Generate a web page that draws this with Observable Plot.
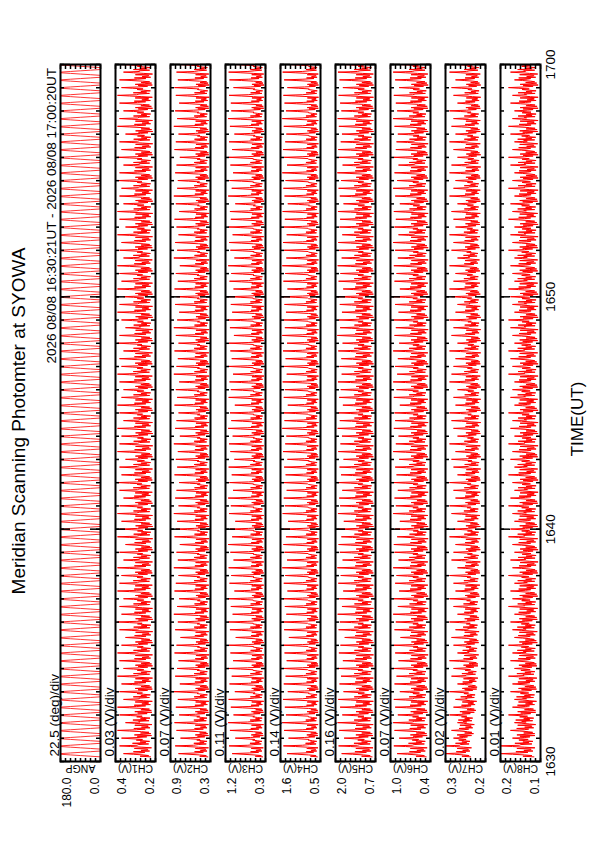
<!DOCTYPE html>
<html>
<head>
<meta charset="utf-8">
<script src="https://cdn.jsdelivr.net/npm/d3@7"></script>
<script src="https://cdn.jsdelivr.net/npm/@observablehq/plot@0.6"></script>
<style>
html, body { margin: 0; padding: 0; background: #fff; }
body { width: 595px; height: 842px; overflow: hidden; position: relative; font-family: "Liberation Sans", Arial, sans-serif; }
#land { position: absolute; left: 0; top: 0; width: 842px; height: 595px; transform-origin: 0 0; transform: translate(0px, 842px) rotate(-90deg); }
#title { position: absolute; left: 0; top: 8px; width: 842px; text-align: center; font-size: 19px; color: #000; white-space: nowrap; }
#subtitle { position: absolute; right: 68px; top: 44px; font-size: 13.5px; color: #000; white-space: nowrap; }
</style>
</head>
<body>
<div id="land">
  <div id="title">Meridian Scanning Photomter at SYOWA</div>
  <div id="subtitle">2026 08/08 16:30:21UT - 2026 08/08 17:00:20UT</div>
</div>
<script>
// ---------------- DATA ----------------
const channelNames = ["ANGP", "CH1(V)", "CH2(V)", "CH3(V)", "CH4(V)", "CH5(V)", "CH6(V)", "CH7(V)", "CH8(V)"];
const divLabels = ["22.5 (deg)/div", "0.03 (V)/div", "0.07 (V)/div", "0.11 (V)/div", "0.14 (V)/div", "0.16 (V)/div", "0.07 (V)/div", "0.02 (V)/div", "0.01 (V)/div"];
const axisTopLabels = ["180.0", "0.4", "0.9", "1.2", "1.6", "2.0", "1.0", "0.3", "0.2"];
const axisBottomLabels = ["0.0", "0.2", "0.3", "0.3", "0.5", "0.7", "0.4", "0.2", "0.1"];
const timeTickLabels = ["1630", "1640", "1650", "1700"];
const xLabel = "TIME(UT)";

const scanStart = "2026-08-08T16:30:12Z";
const scanSeconds = 20;   // one meridian scan
const nScans = 90;

// scan-angle samples within one scan (deg)
const angShape = [0, 45, 90, 135, 180, 180, 135, 90, 45, 0, 0, 0];
// within-scan background shapes (fraction of the noise band) and the zenith spike shape
const scanShapes = [
  [0.05, 0.6, 0.15, 0, 0, 0, 0, 0.35, 0.95, 0.1, 0.55, 0.2],
  [0.2, 0.9, 0.0, 0, 0, 0, 0, 0.7, 0.15, 1.0, 0.3, 0.6],
  [0.1, 0.45, 0.8, 0, 0, 0, 0, 0.25, 0.75, 0.0, 0.9, 0.4]
];
const spikeShape = [0, 0, 0, 0.3, 0.65, 1, 0.45, 0, 0, 0, 0, 0];

// per-minute background level of each channel (V)
const ch1Base = [0.22,0.218,0.216,0.215,0.215,0.214,0.215,0.216,0.215,0.214,0.215,0.216,0.215,0.214,0.215,0.215,0.216,0.215,0.214,0.215,0.215,0.216,0.215,0.214,0.215,0.215,0.214,0.215,0.216,0.215];
const ch2Base = [0.33,0.33,0.325,0.325,0.32,0.325,0.32,0.325,0.325,0.32,0.325,0.32,0.325,0.325,0.32,0.325,0.32,0.325,0.32,0.325,0.325,0.32,0.325,0.32,0.325,0.325,0.32,0.325,0.32,0.325];
const ch3Base = [0.35,0.345,0.34,0.34,0.335,0.34,0.335,0.34,0.34,0.335,0.34,0.335,0.34,0.34,0.335,0.34,0.335,0.34,0.335,0.34,0.34,0.335,0.34,0.335,0.34,0.34,0.335,0.34,0.335,0.34];
const ch4Base = [0.57,0.565,0.56,0.56,0.555,0.56,0.555,0.56,0.56,0.555,0.56,0.555,0.56,0.56,0.555,0.56,0.555,0.56,0.555,0.56,0.56,0.555,0.56,0.555,0.56,0.56,0.555,0.56,0.555,0.56];
const ch5Base = [0.78,0.775,0.77,0.77,0.765,0.77,0.765,0.77,0.77,0.765,0.77,0.765,0.77,0.77,0.765,0.77,0.765,0.77,0.765,0.77,0.77,0.765,0.77,0.765,0.77,0.77,0.765,0.77,0.765,0.77];
const ch6Base = [0.45,0.445,0.44,0.44,0.435,0.44,0.435,0.44,0.44,0.435,0.44,0.435,0.44,0.44,0.435,0.44,0.435,0.44,0.435,0.44,0.44,0.435,0.44,0.435,0.44,0.44,0.435,0.44,0.435,0.44];
const ch7Base = [0.235,0.228,0.222,0.219,0.217,0.216,0.215,0.214,0.213,0.213,0.214,0.213,0.212,0.213,0.212,0.212,0.213,0.212,0.212,0.213,0.214,0.215,0.214,0.213,0.213,0.212,0.213,0.213,0.212,0.213];
const ch8Base = [0.114,0.112,0.11,0.109,0.108,0.108,0.107,0.107,0.106,0.107,0.107,0.106,0.107,0.106,0.106,0.107,0.106,0.107,0.106,0.106,0.107,0.107,0.106,0.107,0.106,0.106,0.107,0.106,0.106,0.107];
// height of the background noise band (V)
const bandSpread = [0, 0.095, 0.22, 0.3, 0.34, 0.62, 0.28, 0.04, 0.05];

// per-scan peak (zenith spike) value of each channel (V)
const ch1Peak = [0.36,0.38,0.37,0.39,0.35,0.38,0.39,0.36,0.38,0.37,0.39,0.36,0.38,0.39,0.37,0.35,0.38,0.39,0.37,0.38,0.36,0.39,0.38,0.37,0.39,0.36,0.38,0.35,0.39,0.38,0.37,0.39,0.38,0.36,0.38,0.39,0.37,0.38,0.35,0.39,0.38,0.37,0.39,0.36,0.38,0.39,0.37,0.36,0.38,0.39,0.37,0.38,0.36,0.39,0.38,0.35,0.37,0.39,0.38,0.36,0.39,0.37,0.38,0.39,0.36,0.38,0.37,0.39,0.35,0.38,0.39,0.36,0.38,0.37,0.39,0.38,0.36,0.39,0.37,0.38,0.35,0.39,0.38,0.36,0.38,0.39,0.37,0.38,0.36,0.39];
const ch2Peak = [0.78,0.83,0.75,0.81,0.84,0.77,0.82,0.79,0.85,0.76,0.83,0.80,0.78,0.84,0.81,0.75,0.83,0.79,0.85,0.80,0.77,0.84,0.82,0.78,0.85,0.79,0.81,0.76,0.84,0.82,0.80,0.85,0.78,0.83,0.81,0.77,0.84,0.80,0.82,0.79,0.85,0.76,0.83,0.81,0.78,0.84,0.80,0.82,0.77,0.85,0.81,0.79,0.84,0.78,0.82,0.85,0.80,0.77,0.83,0.81,0.84,0.79,0.82,0.76,0.85,0.80,0.83,0.78,0.81,0.84,0.77,0.82,0.85,0.80,0.79,0.83,0.81,0.76,0.84,0.82,0.78,0.85,0.80,0.83,0.77,0.82,0.84,0.79,0.81,0.83];
const ch3Peak = [1.05,1.12,0.98,1.10,1.14,1.02,1.08,1.13,0.99,1.11,1.06,1.14,1.03,1.09,1.12,0.97,1.10,1.13,1.04,1.08,1.14,1.00,1.11,1.07,1.13,1.02,1.09,1.14,1.05,1.10,0.98,1.12,1.08,1.14,1.03,1.11,1.06,1.13,1.00,1.09,1.12,1.04,1.14,1.07,1.10,0.99,1.13,1.08,1.11,1.03,1.14,1.06,1.09,1.12,1.01,1.10,1.14,1.05,1.08,1.13,1.02,1.11,1.07,1.14,1.00,1.09,1.12,1.04,1.13,1.08,1.10,0.98,1.14,1.06,1.11,1.03,1.09,1.13,1.05,1.12,1.00,1.10,1.14,1.07,1.08,1.12,1.02,1.11,1.13,1.06];
const ch4Peak = [1.42,1.52,1.38,1.50,1.55,1.45,1.48,1.53,1.40,1.51,1.46,1.54,1.43,1.49,1.52,1.37,1.50,1.55,1.44,1.48,1.53,1.41,1.51,1.47,1.55,1.42,1.49,1.52,1.45,1.50,1.39,1.54,1.48,1.51,1.43,1.55,1.46,1.50,1.41,1.53,1.47,1.44,1.55,1.49,1.52,1.40,1.51,1.48,1.54,1.43,1.50,1.46,1.53,1.42,1.55,1.48,1.51,1.45,1.49,1.54,1.41,1.52,1.47,1.55,1.44,1.50,1.53,1.43,1.51,1.48,1.54,1.40,1.49,1.52,1.46,1.55,1.42,1.50,1.53,1.47,1.44,1.51,1.55,1.45,1.49,1.52,1.41,1.50,1.54,1.46];
const ch5Peak = [1.80,1.90,1.72,1.88,1.93,1.78,1.85,1.91,1.74,1.87,1.82,1.92,1.76,1.89,1.84,1.70,1.90,1.86,1.93,1.79,1.88,1.75,1.91,1.83,1.94,1.77,1.86,1.90,1.81,1.89,1.73,1.92,1.85,1.88,1.78,1.93,1.82,1.87,1.74,1.91,1.84,1.79,1.93,1.86,1.90,1.76,1.88,1.83,1.92,1.80,1.87,1.81,1.91,1.77,1.94,1.85,1.89,1.79,1.86,1.92,1.75,1.90,1.84,1.93,1.80,1.88,1.91,1.78,1.87,1.85,1.92,1.74,1.86,1.90,1.82,1.94,1.77,1.88,1.91,1.83,1.79,1.89,1.93,1.81,1.85,1.90,1.76,1.87,1.92,1.84];
const ch6Peak = [0.90,0.95,0.87,0.94,0.96,0.89,0.93,0.95,0.86,0.94,0.91,0.96,0.88,0.93,0.95,0.85,0.94,0.92,0.96,0.89,0.95,0.87,0.93,0.91,0.96,0.88,0.94,0.95,0.90,0.93,0.86,0.96,0.92,0.94,0.89,0.95,0.91,0.93,0.87,0.96,0.92,0.88,0.95,0.93,0.94,0.86,0.95,0.91,0.96,0.90,0.93,0.89,0.96,0.87,0.94,0.92,0.95,0.88,0.93,0.96,0.86,0.94,0.91,0.95,0.89,0.93,0.96,0.88,0.94,0.92,0.95,0.86,0.93,0.96,0.90,0.94,0.88,0.95,0.92,0.91,0.89,0.94,0.96,0.90,0.92,0.95,0.87,0.93,0.96,0.91];
const ch7Peak = [0.30,0.30,0.28,0.285,0.27,0.29,0.28,0.275,0.29,0.27,0.285,0.28,0.29,0.27,0.28,0.285,0.275,0.29,0.27,0.28,0.29,0.275,0.28,0.29,0.27,0.285,0.28,0.275,0.29,0.28,0.27,0.285,0.29,0.275,0.28,0.29,0.27,0.28,0.285,0.275,0.29,0.27,0.28,0.285,0.29,0.275,0.28,0.27,0.29,0.285,0.28,0.275,0.29,0.27,0.285,0.28,0.29,0.275,0.27,0.285,0.29,0.28,0.275,0.29,0.27,0.285,0.28,0.29,0.275,0.28,0.285,0.27,0.29,0.28,0.275,0.29,0.285,0.27,0.28,0.29,0.275,0.285,0.28,0.29,0.27,0.28,0.285,0.275,0.29,0.28];
const ch8Peak = [0.20,0.20,0.17,0.175,0.165,0.18,0.17,0.165,0.175,0.17,0.18,0.165,0.175,0.17,0.18,0.165,0.17,0.175,0.165,0.18,0.17,0.175,0.165,0.18,0.17,0.175,0.165,0.17,0.18,0.175,0.165,0.17,0.18,0.175,0.165,0.17,0.18,0.165,0.175,0.17,0.18,0.165,0.175,0.17,0.18,0.165,0.175,0.17,0.165,0.18,0.17,0.175,0.18,0.165,0.17,0.175,0.18,0.165,0.17,0.175,0.18,0.165,0.17,0.175,0.165,0.18,0.17,0.175,0.165,0.18,0.17,0.175,0.165,0.18,0.17,0.165,0.175,0.18,0.17,0.165,0.175,0.18,0.17,0.165,0.175,0.17,0.18,0.165,0.175,0.17];

// ---------------- BUILD SERIES ----------------
const baseArrays = [null, ch1Base, ch2Base, ch3Base, ch4Base, ch5Base, ch6Base, ch7Base, ch8Base];
const peakArrays = [null, ch1Peak, ch2Peak, ch3Peak, ch4Peak, ch5Peak, ch6Peak, ch7Peak, ch8Peak];
const t0ms = Date.parse(scanStart);
const nSamp = angShape.length;

function buildSeries(k) {
  const out = [];
  for (let i = 0; i < nScans; i++) {
    for (let j = 0; j < nSamp; j++) {
      const t = new Date(t0ms + (i * scanSeconds + j * scanSeconds / nSamp) * 1000);
      let v;
      if (k === 0) {
        v = angShape[j];
      } else {
        const base = baseArrays[k][Math.floor(i / 3)];
        const s = spikeShape[j];
        v = s > 0 ? base + s * (peakArrays[k][i] - base)
                  : base + scanShapes[i % scanShapes.length][j] * bandSpread[k];
      }
      out.push({t, v});
    }
  }
  return out;
}

// ---------------- LAYOUT ----------------
const land = document.getElementById("land");
const W = 842, ML = 80, MR = 65, PH = 40, PITCH = 55, TOP0 = 60;
const FW = W - ML - MR;
const parseHM = s => new Date(Date.UTC(2026, 7, 8, +s.slice(0, 2), +s.slice(2)));
const tickDates = timeTickLabels.map(parseHM);
const tStart = tickDates[0], tEnd = tickDates[tickDates.length - 1];
const minuteDates = d3.utcMinute.range(tStart, new Date(+tEnd + 1));
const font = "'Liberation Sans', Arial, sans-serif";

for (let k = 0; k < channelNames.length; k++) {
  const isLast = k === channelNames.length - 1;
  const mt = 15, mb = isLast ? 50 : 0;
  const lo = +axisBottomLabels[k], hi = +axisTopLabels[k];
  const valTicks = d3.range(9).map(j => lo + j * (hi - lo) / 8);
  const tk = {stroke: "black", strokeWidth: 1.5};
  const marks = [
    Plot.line(buildSeries(k), {x: "t", y: "v", stroke: "#ff0000", strokeWidth: k === 0 ? 0.8 : 1, clip: true}),
    Plot.tickX(minuteDates, {x: d => d, insetTop: PH - 4, ...tk}),
    Plot.tickX(minuteDates, {x: d => d, insetBottom: PH - 4, ...tk}),
    Plot.tickX(tickDates, {x: d => d, insetTop: PH - 10, ...tk}),
    Plot.tickX(tickDates, {x: d => d, insetBottom: PH - 10, ...tk}),
    Plot.tickY(valTicks, {y: d => d, insetRight: FW - 4, ...tk}),
    Plot.tickY(valTicks, {y: d => d, insetLeft: FW - 4, ...tk}),
    Plot.frame({stroke: "black", strokeWidth: 2}),
    Plot.text([divLabels[k]], {text: d => d, frameAnchor: "top-left", textAnchor: "start", lineAnchor: "bottom", dx: 5, dy: -2, fontSize: 13.5}),
    Plot.text([channelNames[k]], {text: d => d, frameAnchor: "left", rotate: -90, textAnchor: "middle", lineAnchor: "middle", dx: -7, fontSize: 10.5}),
    Plot.text([axisTopLabels[k]], {text: d => d, frameAnchor: "top-left", textAnchor: "end", lineAnchor: "top", dx: -16, dy: 2, fontSize: 12}),
    Plot.text([axisBottomLabels[k]], {text: d => d, frameAnchor: "bottom-left", textAnchor: "end", lineAnchor: "bottom", dx: -16, dy: -2, fontSize: 12})
  ];
  if (isLast) {
    marks.push(Plot.text(timeTickLabels, {x: parseHM, text: d => d, frameAnchor: "bottom", lineAnchor: "top", dy: 5, fontSize: 13.5}));
    marks.push(Plot.text([xLabel], {text: d => d, frameAnchor: "bottom", lineAnchor: "bottom", dx: -6, dy: 42, fontSize: 17}));
  }
  const svg = Plot.plot({
    width: W,
    height: mt + PH + mb,
    marginLeft: ML, marginRight: MR, marginTop: mt, marginBottom: mb,
    x: {type: "utc", domain: [tStart, tEnd], axis: null},
    y: {domain: [lo, hi], axis: null},
    style: {background: "transparent", overflow: "visible", fontFamily: font, position: "absolute", left: "0px", top: (TOP0 + k * PITCH - mt) + "px", maxWidth: "none"},
    marks
  });
  land.appendChild(svg);
}
</script>
</body>
</html>
